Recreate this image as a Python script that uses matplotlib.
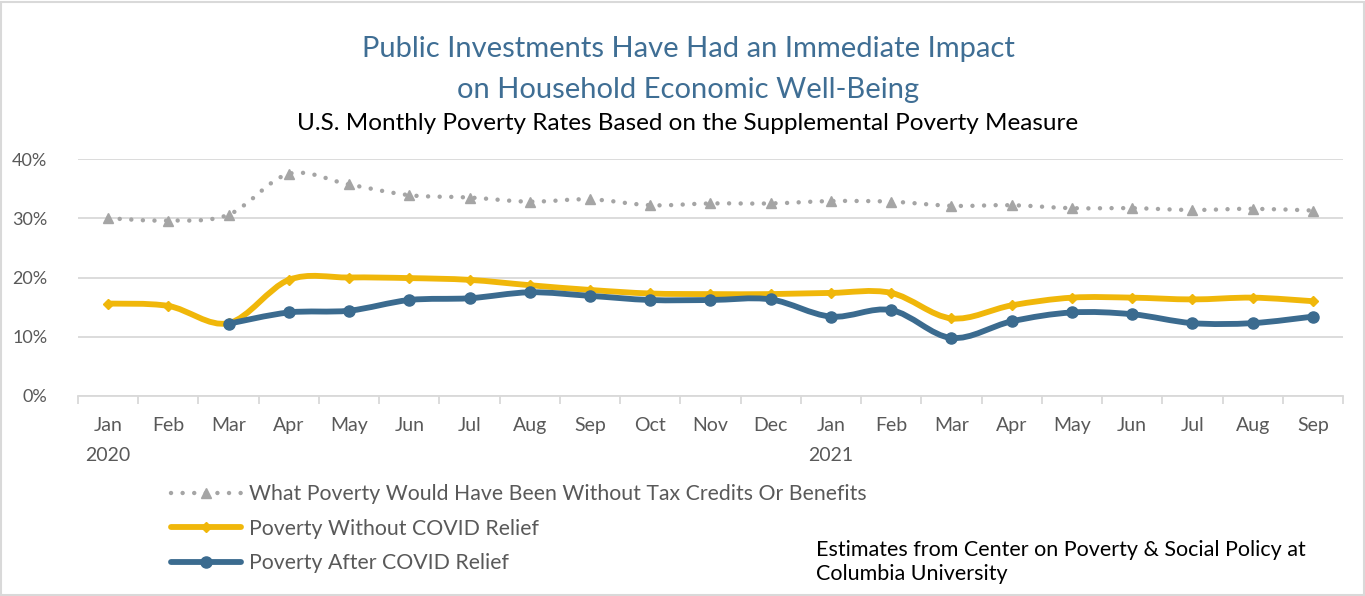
import matplotlib
matplotlib.use("Agg")
import matplotlib.pyplot as plt
from matplotlib.path import Path
from matplotlib.patches import PathPatch, Rectangle
from matplotlib.lines import Line2D

# monthly poverty rates (%), Jan 2020 - Sep 2021
months = ["Jan", "Feb", "Mar", "Apr", "May", "Jun", "Jul", "Aug", "Sep", "Oct", "Nov", "Dec",
          "Jan", "Feb", "Mar", "Apr", "May", "Jun", "Jul", "Aug", "Sep"]
years = {0: "2020", 12: "2021"}

sin_beneficios = [30.0, 29.6, 30.6, 37.5, 35.7, 33.9, 33.5, 32.8, 33.2, 32.2, 32.5, 32.5,
                  32.9, 32.8, 32.1, 32.2, 31.7, 31.7, 31.4, 31.6, 31.3]
sin_covid = [15.6, 15.2, 12.3, 19.6, 20.0, 19.9, 19.6, 18.7, 17.9, 17.3, 17.2, 17.2,
             17.4, 17.4, 13.1, 15.3, 16.6, 16.6, 16.3, 16.6, 16.0]
con_covid = [None, None, 12.2, 14.1, 14.4, 16.2, 16.5, 17.5, 16.9, 16.2, 16.2, 16.3,
             13.4, 14.5, 9.8, 12.6, 14.1, 13.8, 12.3, 12.3, 13.4]

etiquetas = ["What Poverty Would Have Been Without Tax Credits Or Benefits",
             "Poverty Without COVID Relief",
             "Poverty After COVID Relief"]

GRIS = "#A5A5A5"
AMARILLO = "#F0B70A"
AZUL = "#3B6B8F"
TEXTO = "#595959"
FUENTE = ["Lato", "DejaVu Sans"]
plt.rcParams["font.family"] = FUENTE


def curva_suave(xs, ys):
    # bezier path through the points, like the "smoothed line" option in spreadsheets
    pts = [(x, y) for x, y in zip(xs, ys) if y is not None]
    verts = [pts[0]]
    codes = [Path.MOVETO]
    n = len(pts)
    for i in range(n - 1):
        p0 = pts[i - 1] if i > 0 else pts[i]
        p1 = pts[i]
        p2 = pts[i + 1]
        p3 = pts[i + 2] if i + 2 < n else pts[i + 1]
        c1 = (p1[0] + (p2[0] - p0[0]) / 6, p1[1] + (p2[1] - p0[1]) / 6)
        c2 = (p2[0] - (p3[0] - p1[0]) / 6, p2[1] - (p3[1] - p1[1]) / 6)
        verts += [c1, c2, p2]
        codes += [Path.CURVE4] * 3
    return Path(verts, codes)


fig = plt.figure(figsize=(13.65, 5.96), dpi=100)
ax = fig.add_axes([78 / 1365, 1 - 396 / 596, (1343 - 78) / 1365, (396 - 159) / 596])

x = list(range(len(months)))

# gray dotted line with triangles
p = PathPatch(curva_suave(x, sin_beneficios), fill=False, edgecolor=GRIS, lw=3.2,
              linestyle=(0, (0.01, 2.6)), capstyle="round", zorder=3)
ax.add_patch(p)
ax.plot(x, sin_beneficios, linestyle="none", marker="^", ms=7.5, color=GRIS, zorder=4)

# yellow line with diamonds
p = PathPatch(curva_suave(x, sin_covid), fill=False, edgecolor=AMARILLO, lw=4.2,
              capstyle="round", joinstyle="round", zorder=3)
ax.add_patch(p)
ax.plot(x, sin_covid, linestyle="none", marker="D", ms=5, color=AMARILLO, zorder=4)

# blue line with circles
xb = [i for i, v in zip(x, con_covid) if v is not None]
yb = [v for v in con_covid if v is not None]
p = PathPatch(curva_suave(xb, yb), fill=False, edgecolor=AZUL, lw=4.2,
              capstyle="round", joinstyle="round", zorder=5)
ax.add_patch(p)
ax.plot(xb, yb, linestyle="none", marker="o", ms=8, color=AZUL, zorder=6)

ax.set_xlim(-0.5, len(months) - 0.5)
ax.set_ylim(0, 40)
ax.set_yticks([0, 10, 20, 30, 40])
ax.set_yticklabels(["0%", "10%", "20%", "30%", "40%"])
ax.grid(axis="y", color="#D9D9D9", lw=1.3)
ax.set_axisbelow(True)

ax.set_xticks([i - 0.5 for i in range(len(months) + 1)])
ax.set_xticklabels([])
ax.set_xticks(x, minor=True)
ax.set_xticklabels([m + ("\n" + years[i] if i in years else "") for i, m in enumerate(months)],
                   minor=True, fontsize=14, color=TEXTO, linespacing=1.95)
ax.tick_params(axis="x", which="major", length=6, color="#D9D9D9", width=1.3)
ax.tick_params(axis="x", which="minor", length=0, pad=15)
ax.tick_params(axis="y", length=0, labelsize=13, labelcolor=TEXTO, pad=22)
for lado in ["top", "right", "left"]:
    ax.spines[lado].set_visible(False)
ax.spines["bottom"].set_color("#D9D9D9")
ax.spines["bottom"].set_linewidth(1.3)

fig.text(0.504, 0.884, "Public Investments Have Had an Immediate Impact\non Household Economic Well-Being",
         ha="center", va="center", fontsize=21, color="#3F6E94", linespacing=1.72)
fig.text(0.504, 0.792, "U.S. Monthly Poverty Rates Based on the Supplemental Poverty Measure",
         ha="center", va="center", fontsize=17.5, color="black")

handles = [
    Line2D([], [], color=GRIS, lw=3.2, linestyle=(0, (0.01, 2.6)), dash_capstyle="round",
           marker="^", ms=7.5),
    Line2D([], [], color=AMARILLO, lw=4.2, solid_capstyle="round", marker="D", ms=5),
    Line2D([], [], color=AZUL, lw=4.2, solid_capstyle="round", marker="o", ms=8),
]
leg = fig.legend(handles, etiquetas, loc="upper left", bbox_to_anchor=(152 / 1365, 1 - 465 / 596),
                 frameon=False, fontsize=15.3, handlelength=3.3, handletextpad=0.35,
                 labelspacing=0.68, labelcolor=TEXTO)

fig.text(816 / 1365, 1 - 562 / 596, "Estimates from Center on Poverty & Social Policy at\nColumbia University",
         ha="left", va="center", fontsize=15.5, color="black", linespacing=1.3)

fig.patches.append(Rectangle((0.001, 0.001), 0.998, 0.995, transform=fig.transFigure,
                             fill=False, edgecolor="#D9D9D9", lw=1.5))

fig.savefig("out.png", dpi=100)
